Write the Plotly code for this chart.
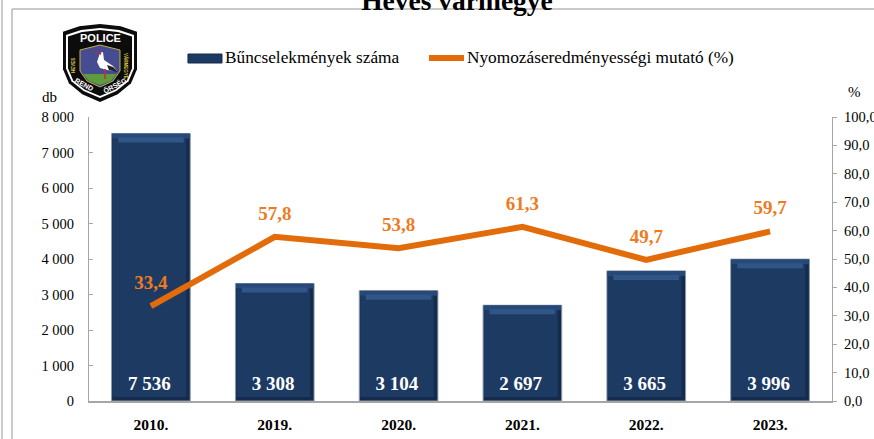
import plotly.graph_objects as go

W, H = 874, 439
L, R, T, B = 89, 832, 117, 401

years = ["2010.", "2019.", "2020.", "2021.", "2022.", "2023."]
crimes = [7536, 3308, 3104, 2697, 3665, 3996]
crime_labels = ["7 536", "3 308", "3 104", "2 697", "3 665", "3 996"]
rate = [33.4, 57.8, 53.8, 61.3, 49.7, 59.7]
rate_labels = ["33,4", "57,8", "53,8", "61,3", "49,7", "59,7"]

NAVY = "#1d3a63"
EDGE = "#142b4d"
BEVEL = "#27497a"
SHINE = "#305688"
ORANGE = "#e36c0a"
LABEL_ORANGE = "#ee7b22"
GREY = "#a6a6a6"
SERIF = "Liberation Serif, Times New Roman, serif"
SANS = "Liberation Sans, Arial, sans-serif"
UNIT = 8000 / (B - T)  # data units per pixel, for the bevel depth


def px(x):
    return (x - L) / (R - L)


def py(y):
    return (B - y) / (B - T)


def path(points, fill, line=None, width=0):
    d = "M " + " L ".join(f"{px(x):.4f},{py(y):.4f}" for x, y in points) + " Z"
    return dict(type="path", xref="paper", yref="paper", path=d, fillcolor=fill,
                line=dict(color=line or fill, width=width), layer="above")


def shield(x0, x1, y0, y1):
    w, h = x1 - x0, y1 - y0
    pts = [(.22, .03), (.5, 0), (.78, .03), (1, .1), (1, .58), (.92, .76), (.74, .9),
           (.5, 1), (.26, .9), (.08, .76), (0, .58), (0, .1)]
    return [(x0 + a * w, y0 + b * h) for a, b in pts]


def line_shape(x0, y0, x1, y1, color, width):
    return dict(type="line", xref="paper", yref="paper", x0=px(x0), y0=py(y0), x1=px(x1), y1=py(y1),
                line=dict(color=color, width=width), layer="above")


shapes = [
    line_shape(12, 9, 874, 9, "#b8b8b8", 1.5),
    line_shape(12, 9, 12, 439, "#b8b8b8", 1.5),
    line_shape(2, 0, 2, 439, "#b8b8b8", 1.5),
    # legend swatches
    path([(188, 54), (222, 54), (222, 63), (188, 63)], NAVY, EDGE, 1),
    line_shape(429, 58, 464, 58, ORANGE, 6),
    # logo
    path(shield(63, 137, 24, 102), "#0c0c0c"),
    path(shield(66, 134, 28, 98), "#ffffff"),
    path(shield(68, 132, 30, 96), "#0c0c0c"),
    path([(80, 50), (100, 45), (120, 50), (120, 71), (113, 81), (100, 87), (87, 81), (80, 71)], "#454c92", "#c4b23c", 1),
    path([(83, 74), (117, 74), (111, 81), (100, 85), (89, 81)], "#5f9a3c"),
    path([(97, 62), (100, 53), (103, 52), (104, 60), (113, 66), (117, 71), (107, 70), (100, 68)], "#ffffff"),
    path([(107, 65), (113, 67), (118, 72), (109, 70)], "#222222"),
    path([(90, 49), (101, 53), (101, 55)], "#b03030"),
    line_shape(105, 69, 105, 79, "#c03030", 1.5),
]

fig = go.Figure()
fig.add_trace(go.Bar(
    x=years, y=crimes, width=0.635, showlegend=False,
    marker=dict(color=EDGE, line=dict(color="#8d99a8", width=1)), hoverinfo="skip",
))
fig.add_trace(go.Bar(
    x=years, y=[v - 9 * UNIT for v in crimes], base=[4 * UNIT] * 6, width=0.595, offset=-0.31,
    name="Bűncselekmények száma", showlegend=False,
    marker=dict(color=NAVY, line=dict(width=0)),
    text=crime_labels, textposition="inside", insidetextanchor="start", textangle=0,
    textfont=dict(color="white", size=19, family=SERIF, weight="bold"), hoverinfo="skip",
))
fig.add_trace(go.Bar(
    x=years, y=[5 * UNIT] * 6, base=[v - 5 * UNIT for v in crimes], width=0.625, showlegend=False,
    marker=dict(color=BEVEL, line=dict(width=0)), hoverinfo="skip",
))
fig.add_trace(go.Bar(
    x=years, y=[5 * UNIT] * 6, base=[v - 9 * UNIT for v in crimes], width=0.53, showlegend=False,
    marker=dict(color=SHINE, line=dict(width=0)), hoverinfo="skip",
))
fig.add_trace(go.Scatter(
    x=years, y=rate, name="Nyomozáseredményességi mutató (%)", yaxis="y2", mode="lines+markers+text",
    showlegend=False, line=dict(color=ORANGE, width=6),
    marker=dict(size=18, opacity=0, color=ORANGE),
    text=rate_labels, textposition="top center",
    textfont=dict(color=LABEL_ORANGE, size=19, family=SERIF, weight="bold"), hoverinfo="skip",
))


def note(text, x, y, size=15, color="black", bold=False, angle=0, anchor="center", family=SERIF):
    fig.add_annotation(text=f"<b>{text}</b>" if bold else text, xref="paper", yref="paper",
                       x=px(x), y=py(y), showarrow=False, textangle=angle, xanchor=anchor, yanchor="middle",
                       font=dict(family=family, size=size, color=color))


note("Bűncselekmények száma", 223, 58, size=17.3, anchor="left")
note("Nyomozáseredményességi mutató (%)", 465, 58, size=17.3, anchor="left")
note("db", 49, 97)
note("%", 854, 92)
note("POLICE", 100, 38, size=11, color="white", bold=True, family=SANS)
note("REND", 84, 85, size=7, color="white", bold=True, angle=28, family=SANS)
note("ŐRSÉG", 115, 85, size=7, color="white", bold=True, angle=-28, family=SANS)
note("HEVES", 74, 66, size=4.5, color="#d8c040", bold=True, angle=-90, family=SANS)
note("VÁRMEGYE", 126, 66, size=4.5, color="#d8c040", bold=True, angle=90, family=SANS)

fig.update_layout(
    width=W, height=H, autosize=False,
    margin=dict(l=L, r=W - R, t=T, b=H - B, pad=0),
    paper_bgcolor="white", plot_bgcolor="white",
    separators=", ",
    barmode="overlay",
    showlegend=False,
    title=dict(text="<b>Heves vármegye</b>", x=457 / W, xanchor="center", y=1, yref="container",
               yanchor="middle", automargin=False, font=dict(family=SERIF, size=27.5, color="black")),
    font=dict(family=SERIF, size=15, color="black"),
    xaxis=dict(showgrid=False, showline=True, linecolor=GREY, linewidth=1.5, ticks="", automargin=False,
               tickfont=dict(size=15.5, family=SERIF, weight="bold"), ticklabelstandoff=9),
    yaxis=dict(range=[0, 8000], dtick=1000, tickformat=",d", showgrid=False, showline=True, automargin=False,
               linecolor=GREY, linewidth=1.2, ticks="inside", ticklen=4, tickcolor=GREY,
               tickfont=dict(size=14.5), ticklabelstandoff=11),
    yaxis2=dict(range=[0, 100], dtick=10, tickformat=".1f", overlaying="y", side="right", automargin=False,
                showgrid=False, showline=True, linecolor=GREY, linewidth=1.2, ticks="outside",
                ticklen=4, tickcolor=GREY, tickfont=dict(size=14.5), ticklabelstandoff=4),
    shapes=shapes,
)
fig.write_html("out.html", config=dict(displayModeBar=False),
               post_script="document.body.style.margin='0';document.documentElement.style.overflow='hidden';")
